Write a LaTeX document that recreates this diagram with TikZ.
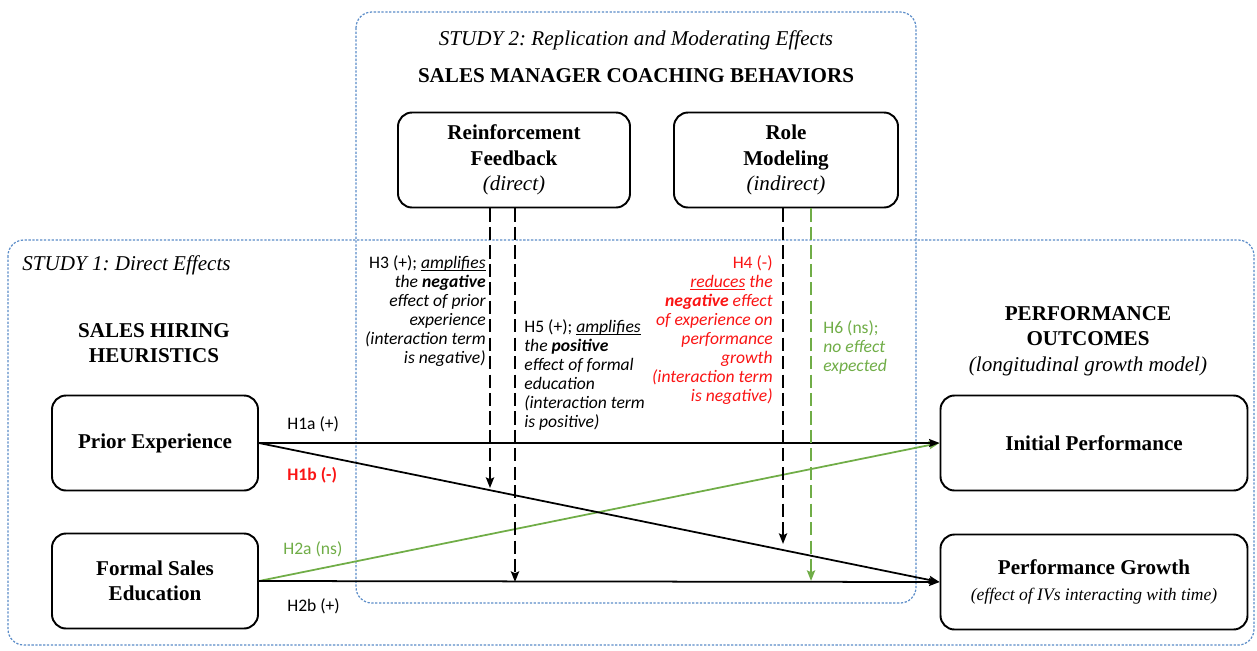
\documentclass[tikz,border=0pt]{standalone}
\usepackage{fontspec}
\setmainfont{Liberation Serif}
\newfontfamily\calfont{Carlito}
\usetikzlibrary{arrows.meta}
\definecolor{studyblue}{RGB}{91,140,200}
\definecolor{nsgreen}{RGB}{112,173,71}
\definecolor{hred}{RGB}{250,20,20}
\newcommand{\ulword}[1]{\setbox0\hbox{#1}\rlap{\rule[-1.6pt]{\wd0}{0.5pt}}\box0\relax}
\frenchspacing
\begin{document}
\begin{tikzpicture}[x=0.02cm,y=-0.02cm,
 studybox/.style={studyblue,line width=0.7pt,dash pattern=on 1.3pt off 0.9pt,rounded corners=9pt},
 varbox/.style={draw,line width=1.1pt,rounded corners=8pt,fill=white,align=center,font=\fontsize{12}{14.5}\selectfont\bfseries},
 pathline/.style={line width=1pt,-{Stealth[length=6pt,width=4.6pt,inset=1pt]}},
 modline/.style={line width=1.25pt,dash pattern=on 7.5pt off 3pt,-{Stealth[length=6pt,width=4.6pt,inset=1pt]}},
 hlabel/.style={font=\calfont\fontsize{10}{10.8}\selectfont,inner sep=0pt},
 note/.style={font=\calfont\fontsize{10}{10.8}\selectfont\itshape,inner sep=0pt},
 heading/.style={align=center,font=\fontsize{12}{14.5}\selectfont\bfseries}]
 \useasboundingbox (0,0) rectangle (1257,650);
 \draw[studybox] (356,12) rectangle (916,603);
 \draw[studybox] (8,240) rectangle (1254,645);
 \node[font=\fontsize{12}{14.5}\selectfont\itshape] (study2) at (636,40) {STUDY 2: Replication and Moderating Effects};
 \node[heading] (coaching) at (636,76) {SALES MANAGER COACHING BEHAVIORS};
 \node[font=\fontsize{12}{14.5}\selectfont\itshape,anchor=west,inner sep=0pt] (study1) at (22,265) {STUDY 1: Direct Effects};
 \node[heading] (hiring) at (154,343) {SALES HIRING\\HEURISTICS};
 \node[heading] (outcomes) at (1088,341) {PERFORMANCE\\OUTCOMES\\{\mdseries\itshape (longitudinal growth model)}};
 \node[varbox,minimum width=232*0.02cm,minimum height=95*0.02cm] (reinf) at (514,160) {Reinforcement\\Feedback\\{\mdseries\itshape (direct)}};
 \node[varbox,minimum width=224*0.02cm,minimum height=95*0.02cm] (role) at (786,160) {Role\\Modeling\\{\mdseries\itshape (indirect)}};
 \node[varbox,minimum width=206*0.02cm,minimum height=95*0.02cm] (prior) at (155,443) {Prior Experience};
 \node[varbox,minimum width=206*0.02cm,minimum height=95*0.02cm] (formal) at (155,581) {Formal Sales\\Education};
 \node[varbox,minimum width=307*0.02cm,minimum height=95*0.02cm] (initial) at (1094,443) {Initial Performance};
 \node[varbox,minimum width=307*0.02cm,minimum height=95*0.02cm] (growth) at (1094,582) {Performance Growth\\{\mdseries\itshape\fontsize{10}{12}\selectfont (effect of IVs interacting with time)}};
 \draw[pathline,nsgreen] (formal.east) -- (initial.west);
 \draw[pathline] (prior.east) -- (growth.west);
 \draw[pathline] (prior.east) -- (initial.west);
 \draw[pathline] (formal.east) -- (growth.west);
 \coordinate (h3end) at (490,488);
 \coordinate (h5end) at (515,582);
 \coordinate (h4end) at (783,544);
 \coordinate (h6end) at (811,581);
 \draw[modline] (reinf.south -| h3end) -- (h3end);
 \draw[modline] (reinf.south -| h5end) -- (h5end);
 \draw[modline] (role.south -| h4end) -- (h4end);
 \draw[modline,nsgreen] (role.south -| h6end) -- (h6end);
 \node[hlabel,anchor=west] (h1a) at (287,424) {H1a (+)};
 \node[hlabel,anchor=west,hred,font=\calfont\fontsize{10}{10.8}\selectfont\bfseries] (h1b) at (287,475) {H1b (-)};
 \node[hlabel,anchor=west,nsgreen] (h2a) at (283,549) {H2a (ns)};
 \node[hlabel,anchor=west] (h2b) at (287,606) {H2b (+)};
 \node[note,align=right,anchor=north east] (h3) at (486,255) {\upshape H3 (+); \itshape\ulword{amplifies}\\the \textbf{negative}\\effect of prior\\experience\\(interaction term\\is negative)};
 \node[note,align=left,anchor=north west] (h5) at (524,319) {\upshape H5 (+); \itshape\ulword{amplifies}\\the \textbf{positive}\\effect of formal\\education\\(interaction term\\is positive)};
 \node[note,align=right,anchor=north east,hred] (h4) at (773,255) {\upshape H4 (-)\\\ulword{reduces} the\\\textbf{negative} effect\\of experience on\\performance\\growth\\(interaction term\\is negative)};
 \node[note,align=left,anchor=north west,nsgreen] (h6) at (823,320) {\upshape H6 (ns);\\no effect\\expected};
\end{tikzpicture}
\end{document}
